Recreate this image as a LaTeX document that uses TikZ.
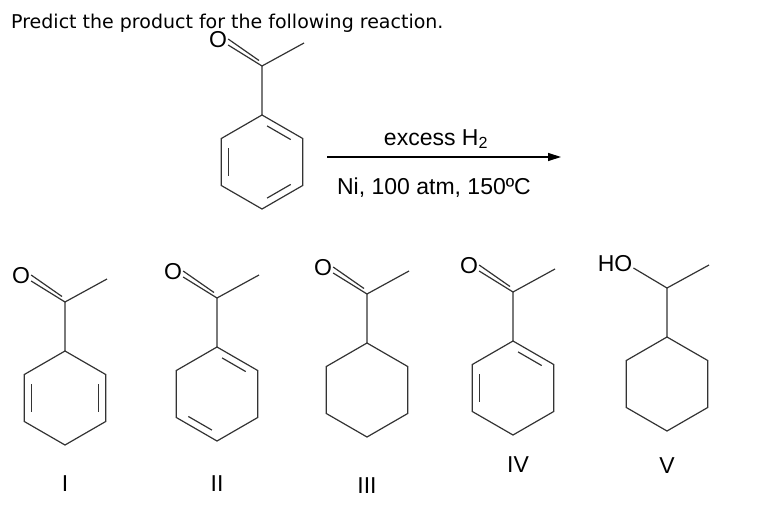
\documentclass[tikz,border=0pt]{standalone}
\usepackage{fontspec}
\setmainfont{Liberation Sans}
\newfontfamily\titlefont{DejaVu Sans}
\usetikzlibrary{calc,arrows.meta}
\tikzset{bond/.style={line width=1.2pt,color=black!80},
 lbl/.style={font=\fontsize{23}{23}\selectfont,inner sep=1pt},
 dbl/.style={line width=1.2pt,color=black!80}}
% ring: vertices a(top) b(ur) c(lr) d(bottom) e(ll) f(ul), center m
\newcommand\ringat[2]{%
 \coordinate (m) at (#1,#2);
 \coordinate (a) at (#1,#2-47); \coordinate (b) at (#1+40.7,#2-23.5);
 \coordinate (c) at (#1+40.7,#2+23.5); \coordinate (d) at (#1,#2+47);
 \coordinate (e) at (#1-40.7,#2+23.5); \coordinate (f) at (#1-40.7,#2-23.5);
 \draw[bond] (a)--(b)--(c)--(d)--(e)--(f)--cycle;
 \coordinate (cc) at (#1,#2-96);
 \draw[bond] (a)--(cc)--++(42,-23);}
\newcommand\inb[2]{\draw[dbl] ($(#1)!0.15!(#2)!0.17!(m)$)--($(#2)!0.15!(#1)!0.17!(m)$);}
\newcommand\keto[1]{\node[lbl] (#1) at ($(cc)+(-44,-26)$) {O};
 \draw[bond] (cc)--($(#1.east)+(0,5)$);
 \draw[bond] ($(cc)+(-3,-5.5)$)--($(#1.east)+(0,-1)$);}
\begin{document}
\begin{tikzpicture}[x=1pt,y=-1pt]
\useasboundingbox (0,0) rectangle (766,514);
\node[anchor=west,font=\titlefont\fontsize{19}{19}\selectfont,inner sep=0] (title) at (11,23) {Predict the product for the following reaction.};
% starting material
\ringat{262}{162}\inb{a}{b}\inb{c}{d}\inb{e}{f}\keto{o0}
\coordinate (ar1) at (327,157); \coordinate (ar2) at (561,157);
\draw[line width=1.3pt,-{Triangle[length=13pt,width=8pt]}] (ar1)--(ar2);
\node[lbl] (exc) at (436,139) {excess H\textsubscript{2}};
\node[lbl] (cond) at (434,188) {Ni, 100 atm, 150ºC};
% I
\ringat{65}{398}\inb{b}{c}\inb{e}{f}\keto{o1}
\node[lbl] (l1) at (65,484) {I};
% II
\ringat{217}{394}\inb{a}{b}\inb{d}{e}\keto{o2}
\node[lbl] (l2) at (217,484) {II};
% III
\ringat{367}{390}\keto{o3}
\node[lbl] (l3) at (367,486) {III};
% IV
\ringat{513}{388}\inb{a}{b}\inb{e}{f}\keto{o4}
\node[lbl] (l4) at (518,465) {IV};
% V
\ringat{667}{384}
\node[lbl] (ho) at ($(cc)+(-52,-24)$) {HO};
\draw[bond] (cc)--($(ho.east)+(0,4)$);
\node[lbl] (l5) at (667,466) {V};
\end{tikzpicture}
\end{document}
